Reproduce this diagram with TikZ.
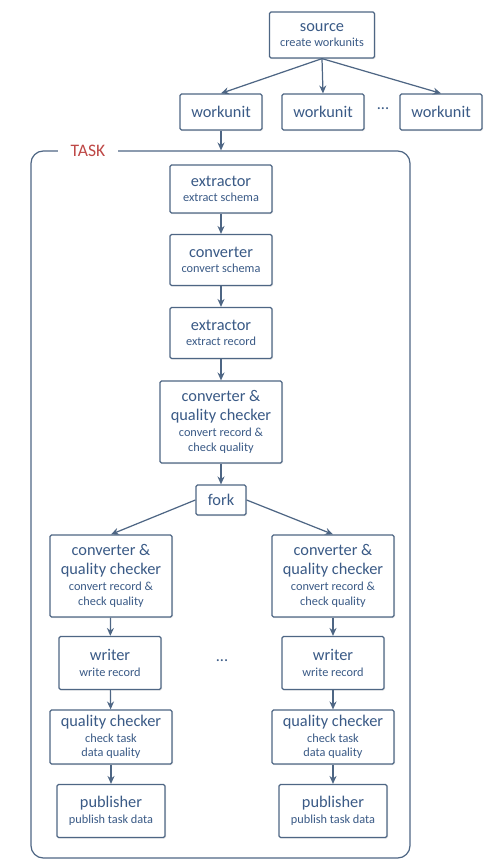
\documentclass[tikz,border=0pt]{standalone}
\usepackage{fontspec}
\setmainfont{Carlito}
\usepackage{tikz}
\usetikzlibrary{arrows.meta,shadows}
\definecolor{boxline}{RGB}{78,102,132}
\definecolor{boxtext}{RGB}{58,90,134}
\definecolor{tasktext}{RGB}{190,72,70}
\newcommand{\bigtxt}{\fontsize{9.3}{10.5}\selectfont}
\newcommand{\smalltxt}{\fontsize{7}{8.3}\selectfont}
\tikzset{stage/.style={draw=boxline,line width=0.7pt,fill=white,text=boxtext,
   align=center,inner sep=1pt,rounded corners=0.8pt,font=\smalltxt,
   drop shadow={opacity=0.18,shadow xshift=0.6pt,shadow yshift=-0.6pt}},
 flow/.style={draw=boxline,line width=0.7pt,-{Stealth[length=4.5pt,width=4pt]}},
 dots/.style={text=boxtext,font=\bigtxt},
 }

\begin{document}
\begin{tikzpicture}
        \useasboundingbox (0,0) rectangle (9.8,17.28);
        % task frame
        \node[draw=boxline,line width=0.7pt,rounded corners=7pt,minimum width=7.58cm,
              minimum height=14.14cm,inner sep=0pt] (task) at (4.41,7.19) {};
        \node[fill=white,text=tasktext,font=\fontsize{10}{12}\selectfont,inner xsep=7pt] (tasklbl) at (1.76,14.26) {TASK};

        % source and workunits
        \node[stage,minimum width=2.1cm,minimum height=0.92cm] (source) at (6.44,16.58)
             {{\bigtxt source}\\[0.6pt]{create workunits}};
        \node[stage,minimum width=1.64cm,minimum height=0.72cm] (wu1) at (4.42,15.04) {\bigtxt workunit};
        \node[stage,minimum width=1.64cm,minimum height=0.72cm] (wu2) at (6.46,15.04) {\bigtxt workunit};
        \node[dots] (wudots) at (7.66,15.1) {...};
        \node[stage,minimum width=1.64cm,minimum height=0.72cm] (wu3) at (8.82,15.04) {\bigtxt workunit};
        \draw[flow] (source.south) -- (wu1.north);
        \draw[flow] (source.south) -- (wu2.north);
        \draw[flow] (source.south) -- (wu3.north);
        \draw[flow] (wu1.south) -- (wu1 |- task.north);

        % main chain
        \node[stage,minimum width=2.04cm,minimum height=0.96cm] (ext1) at (4.42,13.5)
             {{\bigtxt extractor}\\[0.6pt]{extract schema}};
        \node[stage,minimum width=2.04cm,minimum height=1.02cm] (conv) at (4.42,12.08)
             {{\bigtxt converter}\\[0.6pt]{convert schema}};
        \node[stage,minimum width=2.04cm,minimum height=1.02cm] (ext2) at (4.42,10.62)
             {{\bigtxt extractor}\\[0.6pt]{extract record}};
        \node[stage,minimum width=2.44cm,minimum height=1.64cm] (cqc) at (4.42,8.84)
             {{\bigtxt converter \&}\\[2.4pt]{\bigtxt quality checker}\\[1pt]{convert record \&}\\{check quality}};
        \node[stage,minimum width=1.0cm,minimum height=0.6cm] (fork) at (4.42,7.28) {\bigtxt fork};
        \draw[flow] (ext1) -- (conv);
        \draw[flow] (conv) -- (ext2);
        \draw[flow] (ext2) -- (cqc);
        \draw[flow] (cqc) -- (fork);

        % left branch
        \node[stage,minimum width=2.44cm,minimum height=1.64cm] (lcqc) at (2.22,5.76)
             {{\bigtxt converter \&}\\[2.4pt]{\bigtxt quality checker}\\[1pt]{convert record \&}\\{check quality}};
        \node[stage,minimum width=2.04cm,minimum height=1.06cm] (lwriter) at (2.2,4.02)
             {{\bigtxt writer}\\[0.6pt]{write record}};
        \node[stage,minimum width=2.44cm,minimum height=1.08cm] (lqc) at (2.22,2.54)
             {{\bigtxt quality checker}\\[0.6pt]{check task}\\{data quality}};
        \node[stage,minimum width=2.16cm,minimum height=1.06cm] (lpub) at (2.22,1.06)
             {{\bigtxt publisher}\\[0.6pt]{publish task data}};

        % right branch
        \node[stage,minimum width=2.44cm,minimum height=1.64cm] (rcqc) at (6.66,5.76)
             {{\bigtxt converter \&}\\[2.4pt]{\bigtxt quality checker}\\[1pt]{convert record \&}\\{check quality}};
        \node[stage,minimum width=2.04cm,minimum height=1.06cm] (rwriter) at (6.66,4.02)
             {{\bigtxt writer}\\[0.6pt]{write record}};
        \node[stage,minimum width=2.44cm,minimum height=1.08cm] (rqc) at (6.66,2.54)
             {{\bigtxt quality checker}\\[0.6pt]{check task}\\{data quality}};
        \node[stage,minimum width=2.16cm,minimum height=1.06cm] (rpub) at (6.66,1.06)
             {{\bigtxt publisher}\\[0.6pt]{publish task data}};

        \node[dots] (branchdots) at (4.44,4.06) {...};

        \draw[flow] (fork.west) -- (lcqc.north);
        \draw[flow] (fork.east) -- (rcqc.north);
        \draw[flow] (lcqc) -- (lwriter);
        \draw[flow] (lwriter) -- (lqc);
        \draw[flow] (lqc) -- (lpub);
        \draw[flow] (rcqc) -- (rwriter);
        \draw[flow] (rwriter) -- (rqc);
        \draw[flow] (rqc) -- (rpub);
\end{tikzpicture}
\end{document}
